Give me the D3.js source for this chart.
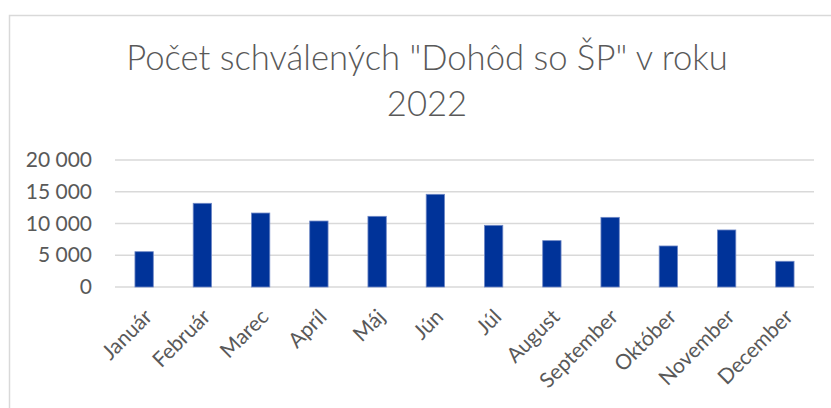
<!DOCTYPE html>
<html>
<head>
<meta charset="utf-8">
<script src="https://cdn.jsdelivr.net/npm/d3@7"></script>
<style>
  body { margin: 0; background: #fff; }
  text { font-family: Lato, "Open Sans", sans-serif; fill: #595959; }
</style>
</head>
<body>
<svg id="chart" width="831" height="408"></svg>
<script>
// data
var months = ["Január", "Február", "Marec", "Apríl", "Máj", "Jún", "Júl", "August", "September", "Október", "November", "December"];
var counts = [5560, 13180, 11650, 10390, 11130, 14600, 9710, 7300, 10970, 6460, 8980, 4050];
var yTicks = [0, 5000, 10000, 15000, 20000];
var titleLines = ['Počet schválených "Dohôd so ŠP" v roku', '2022'];

var svg = d3.select("#chart"),
    width = +svg.attr("width"),
    height = +svg.attr("height");

var margin = { top: 160, right: 17, bottom: 121, left: 115 };

// chart area border (runs off the right and bottom edges)
svg.append("rect")
    .attr("x", 9.5)
    .attr("y", 15.5)
    .attr("width", 840)
    .attr("height", 420)
    .attr("fill", "none")
    .attr("stroke", "#d9d9d9")
    .attr("stroke-width", 1.5);

var x = d3.scaleBand()
    .domain(months)
    .range([margin.left, width - margin.right])
    .paddingInner(0.685)
    .paddingOuter(0.3425);

var y = d3.scaleLinear()
    .domain([0, 20000])
    .range([height - margin.bottom, margin.top]);

var fmt = function(d) { return d3.format(",")(d).replace(/,/g, " "); };

// gridlines
svg.append("g")
    .attr("class", "grid")
  .selectAll("line")
  .data(yTicks)
  .enter().append("line")
    .attr("x1", margin.left)
    .attr("x2", width - margin.right)
    .attr("y1", function(d) { return y(d); })
    .attr("y2", function(d) { return y(d); })
    .attr("stroke", "#d9d9d9")
    .attr("stroke-width", 1.4);

// y axis labels
var yAxis = d3.axisLeft(y)
    .tickValues(yTicks)
    .tickFormat(fmt)
    .tickSize(0)
    .tickPadding(23);

svg.append("g")
    .attr("transform", "translate(" + margin.left + ",0)")
    .call(yAxis)
    .call(function(g) { g.select(".domain").remove(); })
    .selectAll("text")
    .style("font-size", "21px")
    .attr("fill", "#595959");

// bars
svg.append("g")
  .selectAll("rect")
  .data(counts)
  .enter().append("rect")
    .attr("x", function(d, i) { return x(months[i]); })
    .attr("y", function(d) { return y(d); })
    .attr("width", x.bandwidth())
    .attr("height", function(d) { return y(0) - y(d); })
    .attr("fill", "#003399")
    .attr("stroke", "#6f88c6")
    .attr("stroke-width", 0.8);

// x axis labels, rotated
var xAxis = d3.axisBottom(x).tickSize(0).tickPadding(0);

svg.append("g")
    .attr("transform", "translate(0," + y(0) + ")")
    .call(xAxis)
    .call(function(g) { g.select(".domain").remove(); })
    .selectAll("text")
    .style("font-size", "21px")
    .attr("fill", "#595959")
    .attr("text-anchor", "end")
    .attr("dy", "0.35em")
    .attr("transform", "translate(4,26) rotate(-45)");

// title, sized to the width seen in the picture
var title = svg.append("g").attr("class", "title");
title.selectAll("text")
  .data(titleLines)
  .enter().append("text")
    .attr("x", 427)
    .attr("y", function(d, i) { return 70 + i * 46; })
    .attr("text-anchor", "middle")
    .style("font-size", "30px")
    .style("font-weight", 300)
    .text(function(d) { return d; });

var first = title.select("text").node();
var len = first.getComputedTextLength();
var size = 30 * 602 / len;
title.selectAll("text").style("font-size", size + "px");
</script>
</body>
</html>
